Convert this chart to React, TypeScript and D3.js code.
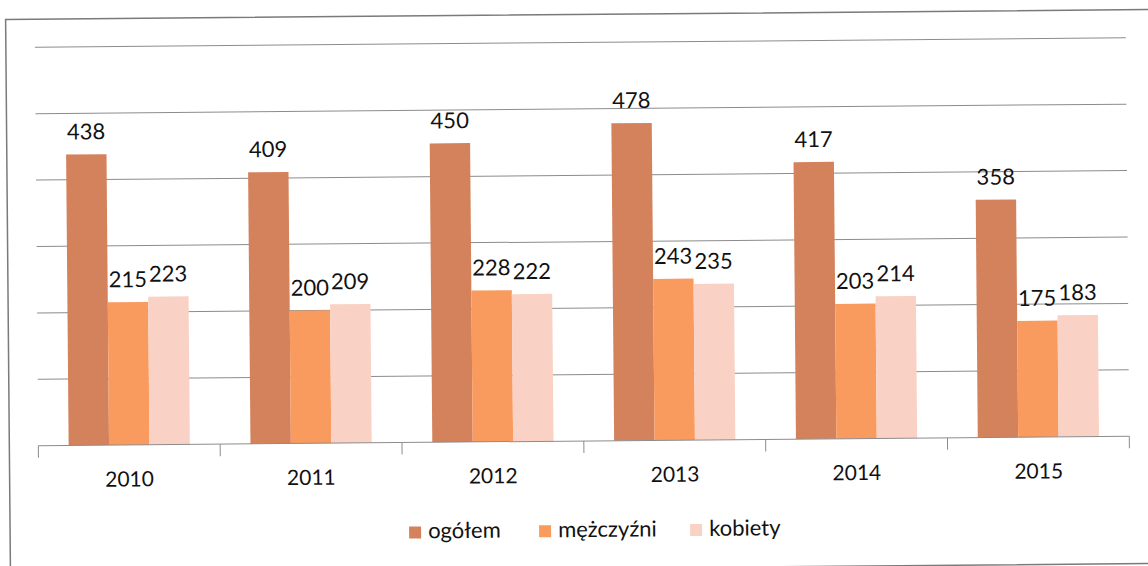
import React from 'react'
import * as d3 from 'd3'

// chart data
const years = ['2010', '2011', '2012', '2013', '2014', '2015']
const ogolem = [438, 409, 450, 478, 417, 358]
const mezczyzni = [215, 200, 228, 243, 203, 175]
const kobiety = [223, 209, 222, 235, 214, 183]
const seriesNames = ['ogółem', 'mężczyźni', 'kobiety']
const seriesColors = ['#D4825C', '#F99A5F', '#F9D2C5']

const width = 1148
const height = 566
const margin = { top: 42.5, right: 20, bottom: 125, left: 37 }
const font = 'Lato, Calibri, sans-serif'

const App = () => {
  const series = [ogolem, mezczyzni, kobiety]

  const x0 = d3.scaleBand<string>()
    .domain(years)
    .range([margin.left, width - margin.right])
  const x1 = d3.scaleBand<string>()
    .domain(seriesNames)
    .range([0, x0.bandwidth()])
    .paddingOuter(0.75)
  const y = d3.scaleLinear()
    .domain([0, 600])
    .range([height - margin.bottom, margin.top])

  const baseY = y(0)
  const edges = [...years.map(d => x0(d) as number), width - margin.right]

  // legend layout
  const legendX = [407, 537, 688]
  const legendY = 537

  return (
    <svg width={width} height={height} style={{ position: 'absolute', left: 0, top: 0, background: '#fff' }}>
      {/* the scan is tilted a little */}
      <g transform="rotate(-0.5 580 290)">
        <rect x={8} y={14.5} width={1200} height={554} fill="#fff" stroke="#7a7a7a" strokeWidth={1.5} />

        {/* gridlines */}
        {y.ticks(6).filter(t => t > 0).map(t => (
          <line key={t} x1={margin.left} x2={width - margin.right} y1={y(t)} y2={y(t)} stroke="#8c8c8c" strokeWidth={1} />
        ))}

        {/* bars */}
        {years.map((yr, i) => (
          <g key={yr} transform={`translate(${x0(yr)},0)`}>
            {series.map((s, j) => (
              <rect
                key={seriesNames[j]}
                x={x1(seriesNames[j])}
                y={y(s[i])}
                width={x1.bandwidth()}
                height={baseY - y(s[i])}
                fill={seriesColors[j]}
              />
            ))}
            {series.map((s, j) => (
              <text
                key={'l' + seriesNames[j]}
                x={(x1(seriesNames[j]) as number) + x1.bandwidth() / 2}
                y={y(s[i]) - 15}
                textAnchor="middle"
                fontFamily={font}
                fontSize={22}
                fill="#111"
              >
                {s[i]}
              </text>
            ))}
            <text
              x={x0.bandwidth() / 2}
              y={482.5}
              textAnchor="middle"
              fontFamily={font}
              fontSize={21}
              fill="#111"
            >
              {yr}
            </text>
          </g>
        ))}

        {/* x axis */}
        <line x1={margin.left} x2={width - margin.right} y1={baseY} y2={baseY} stroke="#8c8c8c" strokeWidth={1} />
        {edges.map((e, i) => (
          <line key={i} x1={e} x2={e} y1={baseY} y2={baseY + 12} stroke="#8c8c8c" strokeWidth={1} />
        ))}

        {/* legend */}
        {seriesNames.map((n, j) => (
          <g key={n}>
            <rect x={legendX[j]} y={legendY - 12} width={12} height={12} fill={seriesColors[j]} />
            <text x={legendX[j] + 19} y={legendY} fontFamily={font} fontSize={22} fill="#111">{n}</text>
          </g>
        ))}
      </g>
    </svg>
  )
}

export default App
